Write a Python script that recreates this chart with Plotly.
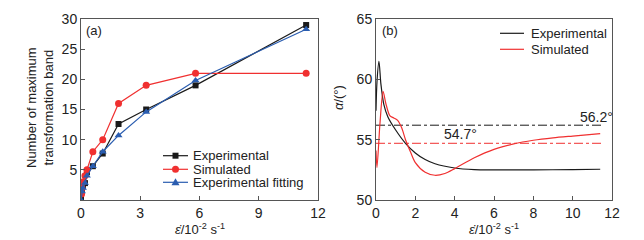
import plotly.graph_objects as go

# ---- Panel (a) data ----
a_exp_x = [0.0, 0.05, 0.1, 0.2, 0.3, 0.6, 1.1, 1.9, 3.3, 5.8, 11.4]
a_exp_y = [0.5, 1.5, 2.3, 2.8, 4.6, 5.6, 7.7, 12.6, 15.0, 19.0, 29.0]
a_sim_x = [0.03, 0.05, 0.1, 0.2, 0.3, 0.6, 1.1, 1.9, 3.3, 5.8, 11.4]
a_sim_y = [1.0, 2.0, 3.0, 4.0, 5.0, 8.0, 10.0, 16.0, 19.0, 21.0, 21.0]
a_fit_x = [0.0, 0.05, 0.1, 0.2, 0.3, 0.6, 1.1, 1.9, 3.3, 5.8, 11.4]
a_fit_y = [0.0, 1.4, 2.0, 2.8, 4.0, 5.6, 8.0, 10.7, 14.6, 19.8, 28.3]
a_names = ["Experimental", "Simulated", "Experimental fitting"]

# ---- Panel (b) data ----
b_exp_x = [0.0, 0.05, 0.15, 0.25, 0.4, 0.6, 1.0, 1.5, 2.0, 2.5, 3.0, 4.0, 5.0, 6.0, 8.0, 10.0, 11.4]
b_exp_y = [57.4, 59.8, 61.5, 59.6, 57.9, 56.9, 55.8, 54.7, 53.9, 53.35, 53.0, 52.65, 52.52, 52.5, 52.5, 52.52, 52.55]
b_sim_x = [0.0, 0.05, 0.2, 0.36, 0.5, 0.7, 0.9, 1.1, 1.3, 1.5, 1.75, 2.0, 2.5, 3.0, 3.5, 4.0, 5.0, 6.0, 7.0, 8.0, 9.0, 10.0, 11.4]
b_sim_y = [54.1, 52.7, 56.3, 59.0, 58.0, 57.0, 56.8, 56.6, 56.0, 55.0, 54.0, 53.1, 52.3, 52.05, 52.2, 52.6, 53.5, 54.2, 54.65, 54.95, 55.15, 55.3, 55.5]
b_names = ["Experimental", "Simulated"]
b_ref_x = [0.0, 11.55]
b_ref_exp = 56.2
b_ref_sim = 54.7

BLACK = "#1a1a1a"
RED = "#f03030"
BLUE = "#2a5db0"
AX = "#555555"
TXT = "#222222"
FONT = "Liberation Sans, Arial, sans-serif"
W, H = 644, 240

def px(x):
    return x / W

def py(y):
    return 1 - y / H

fig = go.Figure()

fig.add_trace(go.Scatter(x=a_exp_x, y=a_exp_y, mode="lines+markers", name=a_names[0],
                         line=dict(color=BLACK, width=1.2),
                         marker=dict(symbol="square", size=6, color=BLACK),
                         xaxis="x", yaxis="y", showlegend=False))
fig.add_trace(go.Scatter(x=a_sim_x, y=a_sim_y, mode="lines+markers", name=a_names[1],
                         line=dict(color=RED, width=1.2),
                         marker=dict(symbol="circle", size=7, color=RED),
                         xaxis="x", yaxis="y", showlegend=False))
fig.add_trace(go.Scatter(x=a_fit_x, y=a_fit_y, mode="lines+markers", name=a_names[2],
                         line=dict(color=BLUE, width=1.2),
                         marker=dict(symbol="triangle-up", size=7, color=BLUE),
                         xaxis="x", yaxis="y", showlegend=False))

fig.add_trace(go.Scatter(x=b_ref_x, y=[b_ref_exp, b_ref_exp], mode="lines", showlegend=False,
                         line=dict(color=BLACK, width=1, dash="dashdot"),
                         xaxis="x2", yaxis="y2"))
fig.add_trace(go.Scatter(x=b_ref_x, y=[b_ref_sim, b_ref_sim], mode="lines", showlegend=False,
                         line=dict(color=RED, width=1, dash="dashdot"),
                         xaxis="x2", yaxis="y2"))
fig.add_trace(go.Scatter(x=b_exp_x, y=b_exp_y, mode="lines", name=b_names[0],
                         line=dict(color=BLACK, width=1.2, shape="spline", smoothing=0.8),
                         xaxis="x2", yaxis="y2", showlegend=False))
fig.add_trace(go.Scatter(x=b_sim_x, y=b_sim_y, mode="lines", name=b_names[1],
                         line=dict(color=RED, width=1.2, shape="spline", smoothing=0.8),
                         xaxis="x2", yaxis="y2", showlegend=False))

axis_common = dict(showline=True, linecolor=AX, linewidth=1, mirror=True, ticks="inside",
                   ticklen=4, tickcolor=AX, showgrid=False, zeroline=False,
                   tickfont=dict(family=FONT, size=14, color=TXT))

fig.update_layout(
    width=W, height=H,
    margin=dict(l=0, r=0, t=0, b=0, autoexpand=False),
    paper_bgcolor="white", plot_bgcolor="white",
    font=dict(family=FONT, size=13, color=TXT),
    xaxis=dict(domain=[px(81), px(318)], range=[0, 12], tickvals=[0, 3, 6, 9, 12], anchor="y", **axis_common),
    yaxis=dict(domain=[py(200), py(19)], range=[0, 30], tickvals=[5, 10, 15, 20, 25, 30], anchor="x", **axis_common),
    xaxis2=dict(domain=[px(376), px(612)], range=[0, 12], tickvals=[0, 2, 4, 6, 8, 10, 12], anchor="y2", **axis_common),
    yaxis2=dict(domain=[py(200), py(19)], range=[50, 65], tickvals=[50, 55, 60, 65], anchor="x2", **axis_common),
    showlegend=False,
)

shapes = []
ann = []

# manual legend (a)
leg_a_rows = [155.7, 169.3, 182.3]
leg_a_cols = [BLACK, RED, BLUE]
for i, (yy, col) in enumerate(zip(leg_a_rows, leg_a_cols)):
    shapes.append(dict(type="line", xref="paper", yref="paper", x0=px(163), x1=px(188), y0=py(yy), y1=py(yy),
                       line=dict(color=col, width=1.2)))
    cx = 175.5
    if i == 0:
        shapes.append(dict(type="rect", xref="paper", yref="paper", x0=px(cx - 3), x1=px(cx + 3),
                           y0=py(yy + 3), y1=py(yy - 3), fillcolor=col, line=dict(width=0)))
    elif i == 1:
        shapes.append(dict(type="circle", xref="paper", yref="paper", x0=px(cx - 3.5), x1=px(cx + 3.5),
                           y0=py(yy + 3.5), y1=py(yy - 3.5), fillcolor=col, line=dict(width=0)))
    else:
        shapes.append(dict(type="path", xref="paper", yref="paper",
                           path=f"M {px(cx-4)} {py(yy+3)} L {px(cx+4)} {py(yy+3)} L {px(cx)} {py(yy-4)} Z",
                           fillcolor=col, line=dict(width=0)))
    ann.append(dict(text=a_names[i], x=px(191), y=py(yy), xref="paper", yref="paper",
                    xanchor="left", yanchor="middle", showarrow=False, font=dict(size=13)))

# manual legend (b)
leg_b_rows = [33.3, 49.3]
leg_b_cols = [BLACK, RED]
for i, (yy, col) in enumerate(zip(leg_b_rows, leg_b_cols)):
    shapes.append(dict(type="line", xref="paper", yref="paper", x0=px(500), x1=px(524), y0=py(yy), y1=py(yy),
                       line=dict(color=col, width=1.2)))
    ann.append(dict(text=b_names[i], x=px(529), y=py(yy), xref="paper", yref="paper",
                    xanchor="left", yanchor="middle", showarrow=False, font=dict(size=13)))

ann += [
    dict(text="(a)", x=px(84), y=py(30), xref="paper", yref="paper", xanchor="left", yanchor="middle", showarrow=False),
    dict(text="(b)", x=px(380), y=py(30), xref="paper", yref="paper", xanchor="left", yanchor="middle", showarrow=False),
    dict(text="Number of maximum<br>transformation band", x=px(40), y=py(108), xref="paper", yref="paper",
         textangle=-90, showarrow=False, xanchor="center", yanchor="middle"),
    dict(text="<i>α</i>/(°)", x=px(338), y=py(98), xref="paper", yref="paper",
         textangle=-90, showarrow=False, xanchor="center", yanchor="middle"),
    dict(text="<i>ε̇</i>/10<sup>-2</sup> s<sup>-1</sup>", x=px(200), y=py(229), xref="paper", yref="paper",
         showarrow=False, xanchor="center", yanchor="middle"),
    dict(text="<i>ε̇</i>/10<sup>-2</sup> s<sup>-1</sup>", x=px(494), y=py(229), xref="paper", yref="paper",
         showarrow=False, xanchor="center", yanchor="middle"),
    dict(text="56.2°", x=11.2, y=56.9, xref="x2", yref="y2", showarrow=False, xanchor="center", yanchor="middle",
         font=dict(size=14)),
    dict(text="54.7°", x=4.3, y=55.45, xref="x2", yref="y2", showarrow=False, xanchor="center", yanchor="middle",
         font=dict(size=14)),
]
fig.update_layout(annotations=ann, shapes=shapes)

fig.write_html("out.html", config={"displayModeBar": False},
               post_script="document.body.style.margin='0';document.body.style.overflow='hidden';")
